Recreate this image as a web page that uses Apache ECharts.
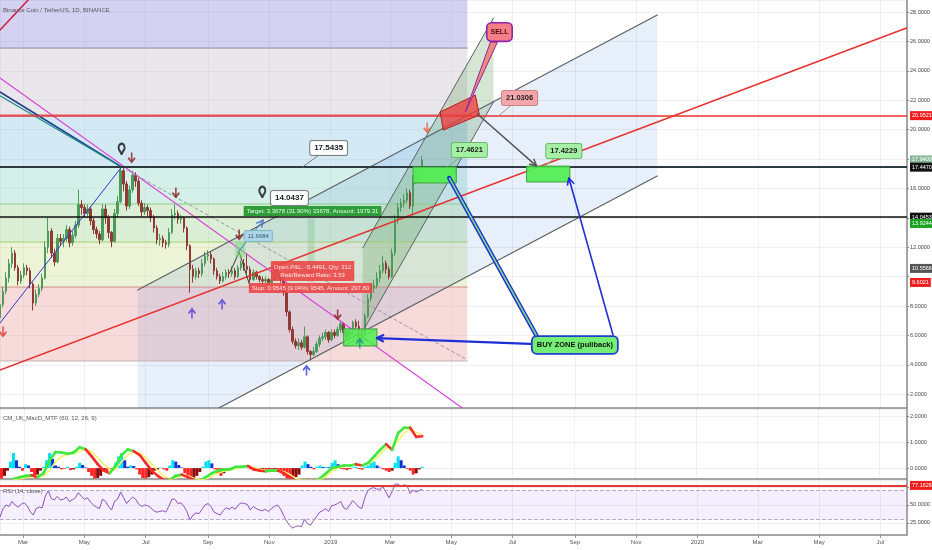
<!DOCTYPE html>
<html>
<head>
<meta charset="utf-8">
<title>Binance Coin / TetherUS, 1D, BINANCE</title>
<script src="https://cdn.jsdelivr.net/npm/echarts@6.0.0/dist/echarts.min.js"></script>
<style>
html,body{margin:0;padding:0;background:#ffffff;}
#chart{width:932px;height:550px;}
</style>
</head>
<body>
<div id="chart"></div>
<script>
// ======================= DATA =======================
const startDate = '2018-02-06';
const candleStepDays = 3;
const indicatorStepDays = 6;

// [open, close, low, high], one candle every 3 days from startDate
const candles = [
  [7.2,8.1,6.8,8.5],[8.1,9.0,7.9,9.3],[9.0,9.9,8.8,10.3],[9.9,10.9,9.6,11.2],[10.9,11.6,10.6,12.0],
  [11.6,10.6,10.4,11.8],[10.6,9.7,9.4,10.8],[9.7,10.1,9.5,10.4],[10.1,10.6,9.9,10.9],[10.6,10.4,10.1,10.8],
  [10.4,9.5,9.2,10.6],[9.5,8.2,7.7,9.6],[8.2,8.8,8.0,9.1],[8.8,9.2,8.6,9.5],[9.2,9.9,9.0,10.2],
  [9.9,12.0,9.8,12.4],[12.0,13.1,11.6,14.0],[13.1,11.6,11.3,13.3],[11.6,11.0,10.7,11.9],[11.0,12.6,10.9,12.9],
  [12.6,12.4,12.1,12.9],[12.4,12.6,12.0,12.9],[12.6,13.2,12.4,13.5],[13.2,12.3,12.0,13.4],[12.3,12.8,12.1,13.1],
  [12.8,13.5,12.6,13.8],[13.5,14.9,13.3,15.9],[14.9,14.7,14.2,15.2],[14.7,14.3,14.0,14.9],[14.3,14.6,14.0,14.9],
  [14.6,13.8,13.5,14.8],[13.8,13.2,12.9,14.0],[13.2,12.9,12.6,13.4],[12.9,12.5,12.2,13.1],[12.5,14.6,12.4,14.9],
  [14.6,14.0,13.6,14.9],[14.0,13.0,12.6,14.2],[13.0,12.4,12.0,13.1],[12.4,14.3,12.3,14.6],[14.3,15.1,14.0,15.5],
  [15.1,17.2,15.0,17.45],[17.2,16.3,15.8,17.4],[16.3,14.8,14.5,16.5],[14.8,15.9,14.6,16.2],[15.9,16.9,15.7,17.2],
  [16.9,16.5,16.1,17.1],[16.5,15.0,14.8,16.7],[15.0,14.4,14.1,15.2],[14.4,14.7,14.2,15.0],[14.7,14.5,14.1,14.9],
  [14.5,14.0,13.7,14.7],[14.0,13.3,13.0,14.2],[13.3,12.5,12.2,13.5],[12.5,12.6,12.1,12.9],[12.6,12.3,12.0,12.8],
  [12.3,12.2,11.9,12.5],[12.2,13.0,12.0,13.3],[13.0,14.2,12.9,14.6],[14.2,14.3,13.9,14.9],[14.3,13.9,13.6,14.5],
  [13.9,14.0,13.6,14.2],[14.0,13.3,13.0,14.1],[13.3,12.1,11.8,13.4],[12.1,10.5,8.9,12.2],[10.5,10.0,9.6,10.8],
  [10.0,10.4,9.8,10.6],[10.4,10.2,9.9,10.6],[10.2,10.9,10.0,11.2],[10.9,11.4,10.7,11.7],[11.4,11.5,11.1,11.8],
  [11.5,11.2,10.9,11.7],[11.2,10.4,10.1,11.3],[10.4,10.0,9.8,10.6],[10.0,9.7,9.5,10.2],[9.7,10.0,9.6,10.3],
  [10.0,10.3,9.8,10.5],[10.3,10.2,9.9,10.5],[10.2,10.4,10.0,10.7],[10.4,10.0,9.8,10.6],[10.0,10.6,9.9,10.8],
  [10.6,10.9,10.4,11.1],[10.9,10.7,10.4,11.2],[10.7,10.5,10.2,11.6],[10.5,9.8,9.6,10.7],[9.8,10.3,9.7,10.5],
  [10.3,10.0,9.8,10.4],[10.0,9.8,9.6,10.1],[9.8,9.7,9.5,10.0],[9.7,9.8,9.5,10.0],[9.8,9.6,9.4,9.9],
  [9.6,9.8,9.5,10.0],[9.8,10.1,9.7,10.3],[10.1,10.2,9.9,10.5],[10.2,9.8,9.6,10.3],[9.8,8.9,8.7,9.9],
  [8.9,7.6,7.3,9.0],[7.6,6.4,6.2,7.7],[6.4,5.6,5.4,6.6],[5.6,5.3,5.1,5.8],[5.3,5.5,5.0,5.8],
  [5.5,5.2,5.0,5.7],[5.2,5.9,5.1,6.6],[5.9,4.9,4.7,6.0],[4.9,4.7,4.3,5.0],[4.7,4.9,4.6,5.2],
  [4.9,5.4,4.8,5.6],[5.4,5.8,5.2,6.0],[5.8,5.9,5.6,6.2],[5.9,6.2,5.7,6.4],[6.2,5.7,5.5,6.3],
  [5.7,6.2,5.6,6.4],[6.2,6.0,5.8,6.4],[6.0,6.4,5.9,6.6],[6.4,6.8,6.2,7.0],[6.8,6.2,6.0,6.9],
  [6.2,5.9,5.7,6.3],[5.9,6.3,5.8,6.5],[6.3,6.9,6.1,7.0],[6.9,6.6,6.4,7.1],[6.6,6.3,5.9,7.0],
  [6.3,6.0,5.6,6.4],[6.0,7.3,5.9,7.5],[7.3,8.5,7.2,8.8],[8.5,9.2,8.3,9.5],[9.2,9.4,8.9,9.8],
  [9.4,9.9,9.2,10.3],[9.9,10.4,9.6,10.8],[10.4,10.9,10.2,11.4],[10.9,10.5,10.2,11.1],[10.5,10.0,9.8,10.7],
  [10.0,11.6,9.9,11.9],[11.6,13.9,11.4,14.2],[13.9,14.7,13.6,15.0],[14.7,15.0,14.4,15.3],[15.0,15.2,14.7,15.6],
  [15.2,15.7,15.0,16.0],[15.7,14.8,14.6,15.9],[14.8,16.6,14.1,16.9],[16.6,16.9,16.3,17.2],[16.9,17.0,16.6,17.4],
  [17.0,17.94,16.9,18.2]
];

// CM_Ult_MacD_MTF histogram, one value every 3 days
const macdHistogram = [
  -0.4,-0.3,-0.1,0.25,0.58,0.3,0.05,-0.1,0.15,0.1,
  -0.15,-0.35,-0.25,-0.1,0.05,0.3,0.58,0.35,0.1,0.05,
  -0.05,-0.02,0.05,-0.08,-0.05,0.05,0.2,0.12,0.02,-0.15,
  -0.3,-0.4,-0.38,-0.3,-0.1,-0.15,-0.05,-0.1,0.2,0.45,
  0.58,0.3,0.05,0.1,0.08,-0.05,-0.25,-0.38,-0.4,-0.35,
  -0.25,-0.1,-0.05,0.02,-0.05,-0.1,0.1,0.3,0.25,0.12,
  0.02,-0.2,-0.35,-0.4,-0.38,-0.3,-0.15,0.05,0.25,0.3,
  0.18,-0.05,-0.2,-0.3,-0.2,-0.08,-0.03,0.02,-0.04,0.05,
  0.08,0.1,0.04,-0.05,-0.1,-0.08,-0.1,-0.06,-0.08,-0.05,
  -0.06,-0.04,-0.1,-0.15,-0.3,-0.4,-0.41,-0.4,-0.35,-0.25,
  0.1,0.25,0.15,0.05,-0.05,0.05,0.1,0.04,0.05,0.03,
  0.2,0.3,0.15,-0.03,-0.05,-0.08,-0.03,0.03,0.05,-0.04,
  -0.06,0.05,0.1,0.2,0.25,0.1,0.02,-0.05,-0.1,-0.15,
  -0.1,0.2,0.45,0.3,0.1,-0.03,-0.1,-0.25,-0.2,-0.05,
  0.05
];
// MACD and signal lines, one value every 6 days
const macdLine = [
  -0.5,-0.48,-0.42,-0.35,-0.3,-0.28,-0.35,-0.2,0.3,0.62,
  0.6,0.55,0.6,0.8,0.72,0.45,0.15,-0.1,-0.2,0.1,
  0.5,0.72,0.65,0.5,0.2,-0.1,-0.3,-0.45,-0.45,-0.3,
  -0.25,-0.35,-0.45,-0.5,-0.35,-0.2,-0.1,-0.05,-0.05,0.05,
  0.05,0.08,-0.05,-0.1,-0.12,-0.1,-0.1,-0.2,-0.35,-0.5,
  -0.5,-0.45,-0.5,-0.4,-0.2,0.0,0.05,0.1,0.1,0.15,
  0.1,0.2,0.45,0.7,0.92,0.7,1.35,1.55,1.55,1.2,
  1.22
];
const signalLine = [
  -0.55,-0.5,-0.47,-0.42,-0.37,-0.33,-0.33,-0.3,-0.1,0.25,
  0.45,0.52,0.55,0.65,0.72,0.62,0.4,0.15,-0.05,-0.05,
  0.25,0.5,0.62,0.58,0.4,0.15,-0.1,-0.3,-0.42,-0.38,
  -0.3,-0.3,-0.38,-0.45,-0.42,-0.32,-0.2,-0.12,-0.08,-0.02,
  0.02,0.05,0.02,-0.05,-0.09,-0.1,-0.1,-0.14,-0.25,-0.4,
  -0.47,-0.47,-0.48,-0.45,-0.32,-0.12,0.0,0.06,0.09,0.12,
  0.12,0.15,0.3,0.52,0.78,0.78,1.05,1.35,1.5,1.38,
  1.28
];
// RSI (14, close), one value every 3 days
const rsiValues = [
  33,45,50,48,55,50,47,51,53,49,
  41,36,45,47,46,62,70,59,57,62,
  57,58,61,55,57,60,67,62,58,60,
  54,50,47,45,58,55,48,43,55,58,
  68,60,52,57,61,58,51,48,50,49,
  46,42,40,41,42,40,48,58,58,52,
  53,48,41,29,36,39,38,44,50,52,
  48,40,38,36,42,46,44,47,44,50,
  53,52,51,43,48,45,43,42,44,41,
  45,48,50,45,36,28,22,18,20,21,
  20,30,24,22,28,34,40,42,45,41,
  49,50,52,55,46,44,50,56,52,47,
  45,60,70,73,74,72,72,75,68,60,
  68,79,79,76,78,77,66,71,68,70,
  72
];
const rsiBand = [30, 70];
const rsiMark = 77.1626;

// axis ranges and tick steps
const priceRange = [1.06, 28.82], priceTickStep = 2;
const macdRange = [-0.42, 2.27], macdTickStep = 1;
const rsiRange = [8.3, 84.7], rsiTickStep = 25;
const timeRangeDays = [0, 902.5];
const monthNames = ['Jan','Feb','Mar','Apr','May','Jun','Jul','Aug','Sep','Oct','Nov','Dec'];

// price-scale tags on the right axis
const priceTags = [20.9521, 17.9400, 17.4470, 14.0453, 13.9244, 10.5566, 9.6021];

// drawings: points are [day offset from startDate, price]
const fibLevels = [30.0, 25.55, 21.0, 17.46, 14.94, 12.35, 9.29, 4.26];
const fibDays = [-40, 465];
const channelZone = [[137,9.09],[654,27.8],[654,16.84],[137,-1.86]];
const steepZone = [[361,11.95],[491,27.59],[491,21.88],[360,6.16]];
const positionProfit = [[306,13.9244],[313,13.9244],[313,10.5566],[306,10.5566]];
const positionLoss = [[306,10.5566],[313,10.5566],[313,9.6021],[306,9.6021]];
const sellZone = [[438,21.2],[473,22.35],[477,20.99],[441,19.97]];
const sellPointer = [[488,25.96],[495,25.96],[463,21.2]];
const buyZones = [
  [[411,17.46],[454,17.46],[454,16.37],[411,16.37]],
  [[524,17.52],[567,17.52],[567,16.44],[524,16.44]],
  [[342,6.44],[375,6.44],[375,5.28],[342,5.28]],
  [[234,12.35],[244,12.35],[244,11.33],[234,11.33]]
];
const trendLines = [
  [[0,3.65],[902,26.91]],
  [[0,26.78],[40,29.7]],
  [[0,23.51],[460,1.06]],
  [[0,22.56],[121,17.46]],
  [[0,22.3],[121,17.46]],
  [[0,6.84],[121,17.46]],
  [[121,17.46],[465,4.33]],
  [[137,9.09],[654,27.8]],
  [[137,-1.86],[654,16.84]],
  [[361,11.95],[491,27.59]],
  [[360,6.16],[491,21.88]],
  [[229,10.31],[238,11.67],[249,9.29]],
  [[342,6.44],[375,5.28]],
  [[342,5.28],[375,6.44]]
];
const arrowLines = [
  [[475,21.06],[534,17.52]],
  [[534,5.41],[375,5.82]],
  [[610,6.03],[566,16.71]],
  [[237,11.67],[262,13.85]],
  [[534,5.96],[447,16.71]]
];
const downMarks = [[131,18.07],[175,15.69],[238,12.83],[275,10.59],[336,7.39],[425,20.11],[3,6.23]];
const upMarks = [[191,7.52],[221,8.14],[305,3.65],[358,5.48]];
const pinMarks = [[121,18.27],[261,15.35]];
const calloutTexts = [
  '17.5435','14.0437','21.0306','17.4621','17.4229','SELL','BUY ZONE (pullback)','11.6684',
  'Target: 3.3678 (31.90%) 33678, Amount: 1979.31',
  'Open P&L: -5.4491, Qty: 312\nRisk/Reward Ratio: 3.53',
  'Stop: 0.9545 (9.04%) 9545, Amount: 297.80'
];
const calloutAt = [[327,18.75],[288,15.35],[517,22.15],[467,18.61],[561,18.54],[497,26.64],[572,5.35],[257,12.76],[311,14.46],[311,10.38],[309,9.22]];
const calloutTip = [[301,17.46],[297,14.1],[496,20.93],[445,17.46],[542,17.52],null,null,null,null,null,null];

// ======================= STYLES =======================
const FONT = '"Liberation Sans", Arial, Helvetica, sans-serif';
const fibFills = ['rgba(152,145,225,0.42)','rgba(202,197,210,0.42)','rgba(150,205,232,0.42)','rgba(155,217,202,0.42)','rgba(170,217,160,0.42)','rgba(212,227,157,0.42)','rgba(235,167,167,0.42)'];
const fibLineColors = [null,'#8d8c98','#e06666','#4d5d63','#86cf86','#a3cf70','#cf8c8c','#c9b3b3'];
const trendStyles = [
  {color:'#e8312f', width:1.5},
  {color:'#d0193a', width:1.5},
  {color:'#d946d9', width:1.2},
  {color:'#23408e', width:1.6},
  {color:'#1f8f8a', width:1.2},
  {color:'#3535d0', width:1},
  {color:'#9a9a9a', width:1, dash:[3,3]},
  {color:'#5c6166', width:1.2},
  {color:'#5c6166', width:1.2},
  {color:'#5c6166', width:1},
  {color:'#5c6166', width:1},
  {color:'#3a3a3a', width:1},
  {color:'#2e8b2e', width:1},
  {color:'#2e8b2e', width:1}
];
const arrowStyles = [
  {color:'#555555', width:1.5, head:true},
  {color:'#1f2fd6', width:2.2, head:true},
  {color:'#1f2fd6', width:1.6, head:true},
  {color:'#3d6fd6', width:1, head:true},
  {color:'#1f2fd6', width:4.5, inner:'#7ee07e', innerWidth:1.6}
];
const downColors = ['#8b1c1c','#8b1c1c','#8b1c1c','#8b1c1c','#8b1c1c','#e65a3c','#e03030'];
const upColors = ['#4b3fd8','#4b3fd8','#2f3fe0','#1e8f8a'];
const calloutStyles = [
  {bg:'rgba(255,255,255,0.92)', border:'#7d7d7d', color:'#222', font:'bold 8px', pad:[3,4], r:2, bw:1},
  {bg:'rgba(255,255,255,0.92)', border:'#7d7d7d', color:'#222', font:'bold 8px', pad:[3,4], r:2, bw:1},
  {bg:'#f4a6aa', border:'#c98585', color:'#222', font:'bold 7.5px', pad:[3,4], r:2, bw:1},
  {bg:'#a6f0a6', border:'#6ab96a', color:'#1a1a1a', font:'bold 7.5px', pad:[3,4], r:2, bw:1},
  {bg:'#a6f0a6', border:'#6ab96a', color:'#1a1a1a', font:'bold 7.5px', pad:[3,4], r:2, bw:1},
  {bg:'#f47f86', border:'#8e24aa', color:'#5a0d0d', font:'bold 7px', pad:[5,3], r:4, bw:1.6},
  {bg:'#74ee74', border:'#1f3fd1', color:'#111', font:'bold 7.5px', pad:[4,4], r:4, bw:1.8},
  {bg:'rgba(170,214,235,0.9)', border:'#86b6cc', color:'#3d5566', font:'6px', pad:[2,3], r:1, bw:1},
  {bg:'#2f9e3a', border:'#2f9e3a', color:'#e6ffe6', font:'6px', pad:[2,3], r:0, bw:0},
  {bg:'rgba(235,70,70,0.9)', border:'rgba(235,70,70,0.9)', color:'#ffe9e9', font:'6px', pad:[2,3], r:0, bw:0, lh:8},
  {bg:'rgba(235,70,70,0.9)', border:'rgba(235,70,70,0.9)', color:'#ffe9e9', font:'6px', pad:[2,3], r:0, bw:0}
];
const tagColors = ['#f01e1e','#86b896','#111111','#111111','#1aa322','#555555','#f01e1e'];
const tagLines = [
  {color:'#e8312f', width:1.5},
  {color:'rgba(0,0,0,0)', width:0},
  {color:'#2d3a40', width:2},
  {color:'#111111', width:1.5},
  {color:'rgba(0,0,0,0)', width:0},
  {color:'rgba(0,0,0,0)', width:0},
  {color:'rgba(0,0,0,0)', width:0}
];
const tagAlign = ['middle','middle','middle','middle','top','middle','middle'];
const gridHeights = [408, 70, 55];

// ======================= HELPERS =======================
const DAY = 86400000;
const T0 = Date.parse(startDate + 'T00:00:00Z');
const T = d => T0 + d * DAY;
function fmtDate(v) {
  const d = new Date(v), m = d.getUTCMonth();
  return m === 0 ? String(d.getUTCFullYear()) : monthNames[m];
}
function headPts(a, b, L, W) {
  const ang = Math.atan2(b[1]-a[1], b[0]-a[0]), c = Math.cos(ang), s = Math.sin(ang);
  return [[b[0]-L*c+W*s, b[1]-L*s-W*c], [b[0], b[1]], [b[0]-L*c-W*s, b[1]-L*s+W*c]];
}
function polygonSeries(polys, styles, z) {
  return {
    type:'custom', xAxisIndex:0, yAxisIndex:0, z, silent:true, clip:true, animation:false,
    data: polys.map(p => [T(p[0][0]), p[0][1]]),
    renderItem: (params, api) => {
      const i = params.dataIndex, s = styles[i];
      const pts = polys[i].map(q => api.coord([T(q[0]), q[1]]));
      return {type:'polygon', shape:{points:pts}, style:{fill:s.fill, stroke:s.stroke || null, lineWidth:s.lw || 0}};
    }
  };
}
function lineSeries(lines, styles, z) {
  return {
    type:'custom', xAxisIndex:0, yAxisIndex:0, z, silent:true, clip:true, animation:false,
    data: lines.map(l => [T(l[0][0]), l[0][1]]),
    renderItem: (params, api) => {
      const i = params.dataIndex, s = styles[i];
      const pts = lines[i].map(q => api.coord([T(q[0]), q[1]]));
      const kids = [{type:'polyline', shape:{points:pts}, style:{stroke:s.color, lineWidth:s.width, lineDash:s.dash || null, fill:null, lineCap:'round'}}];
      if (s.inner) kids.push({type:'polyline', shape:{points:pts}, style:{stroke:s.inner, lineWidth:s.innerWidth, fill:null}});
      if (s.head) {
        const n = pts.length;
        kids.push({type:'polyline', shape:{points:headPts(pts[n-2], pts[n-1], 7, 3.5)}, style:{stroke:s.color, lineWidth:Math.max(1.2, s.width), fill:null, lineJoin:'round'}});
      }
      return {type:'group', children:kids};
    }
  };
}
// axis tick labels that sit under a price tag are hidden (as on the original price scale)
function yAxisCfg(g, range, step, tags) {
  const pxPerUnit = gridHeights[g] / (range[1] - range[0]);
  return {
    type:'value', gridIndex:g, position:'right', min:range[0], max:range[1],
    minInterval:step, maxInterval:step, splitNumber:Math.round((range[1]-range[0])/step),
    axisLine:{show:true, lineStyle:{color:'#8a8a8a', width:1.5}},
    axisTick:{show:true, length:2, lineStyle:{color:'#888'}},
    axisLabel:{show:true, margin:3, fontSize:5.5, color:'#444', fontFamily:FONT,
      formatter: v => tags.some(t => Math.abs(t - v) * pxPerUnit < 9.5) ? '' : v.toFixed(4),
      showMinLabel:false, showMaxLabel:false},
    splitLine:{show:true, lineStyle:{color:'rgba(0,0,0,0.06)', width:1}}
  };
}
function xAxisCfg(g) {
  return {
    type:'time', gridIndex:g, min:T(timeRangeDays[0]), max:T(timeRangeDays[1]),
    splitNumber:15, minInterval:75*DAY, maxInterval:75*DAY,
    axisLine:{show:true, onZero:false, lineStyle:{color:'#8a8a8a', width:1.5}},
    axisTick:{show:g === 2, length:3, lineStyle:{color:'#999'}},
    axisLabel:{show:g === 2, formatter:fmtDate, fontSize:6, color:'#555', margin:4, fontFamily:FONT, hideOverlap:false},
    splitLine:{show:true, lineStyle:{color:'rgba(0,0,0,0.06)', width:1}}
  };
}

// ======================= SHAPES FROM DATA =======================
const fibPolys = [], fibPolyStyles = [], fibLinePts = [], fibLineStyles = [];
for (let i = 0; i < fibLevels.length - 1; i++) {
  fibPolys.push([[fibDays[0], fibLevels[i]], [fibDays[1], fibLevels[i]], [fibDays[1], fibLevels[i+1]], [fibDays[0], fibLevels[i+1]]]);
  fibPolyStyles.push({fill:fibFills[i]});
}
for (let i = 1; i < fibLevels.length; i++) {
  fibLinePts.push([[fibDays[0], fibLevels[i]], [fibDays[1], fibLevels[i]]]);
  fibLineStyles.push({color:fibLineColors[i], width:1});
}
function histColor(i) {
  const v = macdHistogram[i], p = i > 0 ? macdHistogram[i-1] : v;
  if (v >= 0) return v >= p ? '#00e2f2' : '#1434d2';
  return v <= p ? '#ff2626' : '#8b0a0a';
}
const tagLabelBase = {show:true, position:'end', distance:3, fontSize:5.5, fontFamily:FONT, color:'#fff', padding:[1.5,2,1.5,2]};

// ======================= OPTION =======================
const chart = echarts.init(document.getElementById('chart'), null, {renderer:'canvas'});
const option = {
  animation:false,
  useUTC:true,
  backgroundColor:'#ffffff',
  textStyle:{fontFamily:FONT},
  grid:[
    {left:0, right:25, top:0, height:gridHeights[0], outerBoundsMode:'none'},
    {left:0, right:25, top:409, height:gridHeights[1], outerBoundsMode:'none'},
    {left:0, right:25, top:480, height:gridHeights[2], outerBoundsMode:'none'}
  ],
  xAxis:[xAxisCfg(0), xAxisCfg(1), xAxisCfg(2)],
  yAxis:[
    yAxisCfg(0, priceRange, priceTickStep, priceTags),
    yAxisCfg(1, macdRange, macdTickStep, []),
    yAxisCfg(2, rsiRange, rsiTickStep, [rsiMark])
  ],
  graphic:[
    {type:'text', left:3, top:7, z:100, silent:true, style:{text:'Binance Coin / TetherUS, 1D, BINANCE', fill:'#555', font:'6px ' + FONT}},
    {type:'text', left:3, top:415, z:100, silent:true, style:{text:'CM_Ult_MacD_MTF (60, 12, 26, 9)', fill:'#555', font:'6px ' + FONT}},
    {type:'text', left:3, top:488, z:100, silent:true, style:{text:'RSI (14, close)', fill:'#555', font:'6px ' + FONT}}
  ],
  series:[
    polygonSeries(fibPolys, fibPolyStyles, 1),
    polygonSeries([channelZone, steepZone, positionProfit, positionLoss],
      [{fill:'rgba(60,120,210,0.12)'}, {fill:'rgba(70,140,60,0.22)'}, {fill:'rgba(76,175,80,0.22)'}, {fill:'rgba(239,83,80,0.22)'}], 1),
    lineSeries(fibLinePts, fibLineStyles, 2),
    {
      type:'candlestick', xAxisIndex:0, yAxisIndex:0, z:3, silent:true, barWidth:2,
      data: candles.map((c, i) => [T(i * candleStepDays), c[0], c[1], c[2], c[3]]),
      itemStyle:{color:'#4c9a5c', color0:'#8f3a33', borderColor:'#4c9a5c', borderColor0:'#8f3a33', borderWidth:1}
    },
    lineSeries(trendLines, trendStyles, 4),
    polygonSeries(buyZones.concat([sellZone, sellPointer]),
      [{fill:'rgba(80,238,80,0.92)', stroke:'#3f9f3f', lw:1},
       {fill:'rgba(80,238,80,0.92)', stroke:'#3f9f3f', lw:1},
       {fill:'rgba(80,238,80,0.85)', stroke:'#3f9f3f', lw:1},
       {fill:'rgba(120,220,120,0.55)', stroke:null, lw:0},
       {fill:'rgba(236,62,62,0.78)', stroke:'#b71c1c', lw:1},
       {fill:'#f08a7a', stroke:'#8e24aa', lw:1}], 5),
    lineSeries(arrowLines, arrowStyles, 6),
    {
      type:'scatter', xAxisIndex:0, yAxisIndex:0, z:7, silent:true,
      symbol:'path://M4,0 L6,0 L6,7 L8.6,4.4 L10,5.8 L5,10.8 L0,5.8 L1.4,4.4 L4,7 Z', symbolSize:[8,11],
      data: downMarks.map((p, i) => ({value:[T(p[0]), p[1]], itemStyle:{color:downColors[i]}}))
    },
    {
      type:'scatter', xAxisIndex:0, yAxisIndex:0, z:7, silent:true, symbolRotate:180,
      symbol:'path://M4,0 L6,0 L6,7 L8.6,4.4 L10,5.8 L5,10.8 L0,5.8 L1.4,4.4 L4,7 Z', symbolSize:[8,11],
      data: upMarks.map((p, i) => ({value:[T(p[0]), p[1]], itemStyle:{color:upColors[i]}}))
    },
    {
      type:'scatter', xAxisIndex:0, yAxisIndex:0, z:7, silent:true, symbol:'pin', symbolSize:[10,13],
      itemStyle:{color:'rgba(0,0,0,0)', borderColor:'#111', borderWidth:2.2},
      data: pinMarks.map(p => [T(p[0]), p[1]])
    },
    {
      type:'custom', xAxisIndex:0, yAxisIndex:0, z:8, silent:true, clip:true,
      data: calloutAt.map(p => [T(p[0]), p[1]]),
      renderItem: (params, api) => {
        const i = params.dataIndex, s = calloutStyles[i];
        const c = api.coord([T(calloutAt[i][0]), calloutAt[i][1]]);
        const kids = [];
        if (calloutTip[i]) {
          const p = api.coord([T(calloutTip[i][0]), calloutTip[i][1]]);
          kids.push({type:'line', shape:{x1:c[0], y1:c[1], x2:p[0], y2:p[1]}, style:{stroke:s.border, lineWidth:1}});
        }
        kids.push({type:'text', x:c[0], y:c[1], style:{
          text:calloutTexts[i], fill:s.color, font:s.font + ' ' + FONT, align:'center', verticalAlign:'middle',
          backgroundColor:s.bg, borderColor:s.border, borderWidth:s.bw, borderRadius:s.r, padding:s.pad,
          lineHeight:s.lh || null
        }});
        return {type:'group', children:kids};
      }
    },
    {
      type:'line', xAxisIndex:0, yAxisIndex:0, data:[], clip:false, silent:true, z:9,
      markLine:{
        silent:true, symbol:['none','none'], animation:false, precision:4,
        label:Object.assign({}, tagLabelBase, {formatter: p => Number(p.value).toFixed(4)}),
        data: priceTags.map((v, i) => ({
          yAxis:v,
          lineStyle:{color:tagLines[i].color, width:tagLines[i].width, type:'solid'},
          label:Object.assign({}, tagLabelBase, {backgroundColor:tagColors[i], verticalAlign:tagAlign[i],
            formatter: p => Number(p.value).toFixed(4)})
        }))
      }
    },
    {
      type:'bar', xAxisIndex:1, yAxisIndex:1, barWidth:3, silent:true, z:3,
      data: macdHistogram.map((v, i) => ({value:[T(i * candleStepDays), v], itemStyle:{color:histColor(i)}}))
    },
    {
      type:'line', xAxisIndex:1, yAxisIndex:1, showSymbol:false, silent:true, z:4,
      data: signalLine.map((v, i) => [T(i * indicatorStepDays), v]),
      lineStyle:{color:'#f3f36e', width:1.6}
    },
    {
      type:'custom', xAxisIndex:1, yAxisIndex:1, z:5, silent:true, clip:true,
      data: macdLine.map((v, i) => [T(i * indicatorStepDays), v]),
      renderItem: (params, api) => {
        const i = params.dataIndex;
        if (i === 0) return {type:'group', children:[]};
        const a = api.coord([T((i-1) * indicatorStepDays), macdLine[i-1]]);
        const b = api.coord([T(i * indicatorStepDays), macdLine[i]]);
        return {type:'line', shape:{x1:a[0], y1:a[1], x2:b[0], y2:b[1]},
          style:{stroke: macdLine[i] >= signalLine[i] ? '#3ee83e' : '#ff2b2b', lineWidth:2.6, lineCap:'round'}};
      }
    },
    {
      type:'line', xAxisIndex:2, yAxisIndex:2, data:[], clip:false, silent:true, z:2,
      markArea:{silent:true, itemStyle:{color:'rgba(153,102,255,0.10)'}, data:[[{yAxis:rsiBand[0]}, {yAxis:rsiBand[1]}]]},
      markLine:{
        silent:true, symbol:['none','none'], animation:false, precision:4,
        data:[
          {yAxis:rsiBand[1], lineStyle:{color:'#b9a9cc', type:'dashed', width:1}, label:{show:false}},
          {yAxis:rsiBand[0], lineStyle:{color:'#b9a9cc', type:'dashed', width:1}, label:{show:false}},
          {yAxis:rsiMark, lineStyle:{color:'#e53935', type:'solid', width:1.8},
            label:Object.assign({}, tagLabelBase, {backgroundColor:'#f01e1e', formatter: p => Number(p.value).toFixed(4)})}
        ]
      }
    },
    {
      type:'line', xAxisIndex:2, yAxisIndex:2, showSymbol:false, silent:true, z:4,
      data: rsiValues.map((v, i) => [T(i * candleStepDays), v]),
      lineStyle:{color:'#8e4fbf', width:1}
    }
  ]
};
chart.setOption(option);
</script>
</body>
</html>
